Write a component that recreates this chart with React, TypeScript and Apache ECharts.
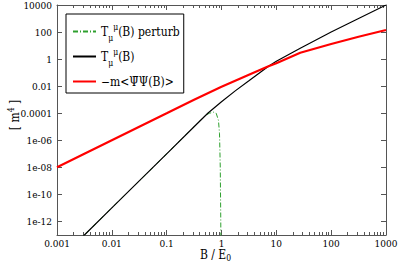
import React, { useEffect, useRef } from "react";
import * as echarts from "echarts";

// ---- data ----
const X_TICKS = [0.001, 0.01, 0.1, 1, 10, 100, 1000];
const X_TICK_LABELS = ["0.001", "0.01", "0.1", "1", "10", "100", "1000"];
const Y_TICKS = [1e-12, 1e-10, 1e-8, 1e-6, 1e-4, 1e-2, 1, 100, 10000];
const Y_TICK_LABELS = ["1e-12", "1e-10", "1e-08", "1e-06", "0.0001", "0.01", "1", "100", "10000"];

// T_mu^mu(B) perturbative
const B_PERT = [0.001, 0.00316, 0.01, 0.0316, 0.1, 0.316, 0.51, 0.6, 0.72, 0.8, 0.88, 0.92, 0.95, 0.97, 0.98];
const T_PERT = [1e-15, 1e-13, 1e-11, 1e-9, 1e-7, 1e-5, 7e-5, 1.0e-4, 1.2e-4, 1.0e-4, 3e-5, 3e-6, 1e-8, 1e-12, 1e-16];

// T_mu^mu(B)
const B_T = [0.001, 0.00316, 0.01, 0.0316, 0.1, 0.316, 0.562, 1, 1.78, 3.16, 7.2, 10, 27.3, 100, 316, 1000];
const T_VAL = [1e-15, 1e-13, 1e-11, 1e-9, 1e-7, 1e-5, 1e-4, 7e-4, 4.5e-3, 0.025, 0.3, 0.7, 6.3, 100, 1000, 10000];

// -m <PsiBar Psi(B)>
const B_C = [0.001, 0.00316, 0.01, 0.0316, 0.1, 0.316, 1, 1.78, 3.16, 7.2, 10, 27.3, 100, 316, 1000];
const C_VAL = [1e-8, 1e-7, 1e-6, 1e-5, 1e-4, 1e-3, 8.9e-3, 0.025, 0.07, 0.3, 0.5, 2.95, 13, 45, 141];

const SERIES_NAMES = ["Tpert", "T", "cond"];

const FONT = "'DejaVu Serif Condensed', 'DejaVu Serif', serif";

function pairs(xs: number[], ys: number[]) {
  return xs.map((x, i) => [x, ys[i]]);
}

function lookup(v: number, ticks: number[], labels: string[]) {
  const i = ticks.findIndex((t) => Math.abs(Math.log10(t) - Math.log10(v)) < 0.01);
  return i >= 0 ? labels[i] : "";
}

export default function App() {
  const ref = useRef<HTMLDivElement>(null);
  useEffect(() => {
    if (!ref.current) return;
    const chart = echarts.init(ref.current, undefined, { renderer: "svg" });
    const axisLineColor = "#555";
    const baseX = {
      type: "log" as const,
      logBase: 10,
      min: 0.001,
      max: 1000,
      interval: 1,
      axisLine: { show: true, lineStyle: { color: axisLineColor, width: 1 } },
      axisTick: { show: true, inside: true, length: 5, lineStyle: { color: axisLineColor } },
      minorTick: { show: true, splitNumber: 9, length: 3, lineStyle: { color: axisLineColor } },
      splitLine: { show: false },
      minorSplitLine: { show: false },
    };
    const baseY = {
      type: "log" as const,
      logBase: 10,
      min: 1e-13,
      max: 1e4,
      axisLine: { show: true, lineStyle: { color: axisLineColor, width: 1 } },
      axisTick: { show: true, inside: true, length: 5, customValues: Y_TICKS, lineStyle: { color: axisLineColor } },
      splitLine: { show: false },
    };
    const n = { fontSize: 12, fontFamily: FONT, color: "#000" };
    const sub = { fontSize: 8.5, fontFamily: FONT, color: "#000", lineHeight: 10, padding: [12, 0, 0, 0] };
    const sup = { fontSize: 8.5, fontFamily: FONT, color: "#000", lineHeight: 10, padding: [0, 0, 9, 0] };
    const legendText: Record<string, string> = {
      Tpert: "{n|T}{sub|\u03bc}{sup|\u03bc}{n|(B) perturb}",
      T: "{n|T}{sub|\u03bc}{sup|\u03bc}{n|(B)}",
      cond: "{n|\u2212m<\u03a8\u0304\u03a8(B)>}{sub| }",
    };
    chart.setOption({
      animation: false,
      backgroundColor: "#fff",
      grid: { left: 57, right: 13, top: 5, bottom: 31, containLabel: false, outerBoundsMode: "none" },
      xAxis: [
        {
          ...baseX,
          position: "bottom",
          name: "{n|B / E}{sub|0}",
          nameLocation: "middle",
          nameGap: 13.5,
          nameMoveOverlap: false,
          nameTextStyle: {
            fontFamily: FONT,
            rich: {
              n: { ...n, lineHeight: 12 },
              sub: { ...sub, lineHeight: 6, padding: [6, 12, 0, 0] },
            },
          },
          axisLabel: {
            show: true,
            margin: 3,
            fontSize: 10,
            lineHeight: 10,
            fontFamily: FONT,
            color: "#000",
            formatter: (v: number) => lookup(v, X_TICKS, X_TICK_LABELS),
          },
        },
        {
          ...baseX,
          position: "top",
          axisLabel: { show: false },
        },
      ],
      yAxis: [
        {
          ...baseY,
          position: "left",
          name: "{nl|[ m}{sup|4}{n| ]}",
          nameLocation: "middle",
          nameGap: 34,
          nameMoveOverlap: false,
          nameTextStyle: {
            fontFamily: FONT,
            rich: {
              n: { ...n, lineHeight: 16 },
              nl: { ...n, lineHeight: 16, padding: [0, 0, 0, 10] },
              sup: { ...sup, padding: [0, 0, 8, 0] },
            },
          },
          axisLabel: {
            show: true,
            margin: 5,
            fontSize: 10,
            fontFamily: FONT,
            color: "#000",
            customValues: Y_TICKS,
            formatter: (v: number) => lookup(v, Y_TICKS, Y_TICK_LABELS),
          },
        },
        {
          ...baseY,
          position: "right",
          axisLabel: { show: false, customValues: Y_TICKS },
        },
      ],
      legend: {
        show: true,
        orient: "vertical",
        left: 66,
        top: 14,
        padding: [7, 4, 1, 6],
        itemGap: 4,
        itemWidth: 23,
        itemHeight: 14,
        borderColor: "#000",
        borderWidth: 1,
        backgroundColor: "#fff",
        data: SERIES_NAMES,
        itemStyle: { opacity: 0 },
        formatter: (name: string) => legendText[name],
        textStyle: { fontFamily: FONT, rich: { n, sub, sup } },
      },
      series: [
        {
          name: "Tpert",
          type: "line",
          data: pairs(B_PERT, T_PERT),
          showSymbol: false,
          symbol: "none",
          clip: true,
          lineStyle: { color: "#2ea02e", width: 1, type: [5, 2, 1, 2] },
          itemStyle: { color: "#2ea02e" },
        },
        {
          name: "T",
          type: "line",
          data: pairs(B_T, T_VAL),
          showSymbol: false,
          symbol: "none",
          clip: true,
          lineStyle: { color: "#000", width: 1.2 },
          itemStyle: { color: "#000" },
        },
        {
          name: "cond",
          type: "line",
          data: pairs(B_C, C_VAL),
          showSymbol: false,
          symbol: "none",
          clip: true,
          lineStyle: { color: "#ff0000", width: 2.2 },
          itemStyle: { color: "#ff0000" },
        },
      ],
    });
    return () => chart.dispose();
  }, []);
  return (
    <div
      ref={ref}
      style={{ position: "fixed", left: 0, top: 0, width: 399, height: 266, background: "#fff" }}
    />
  );
}
